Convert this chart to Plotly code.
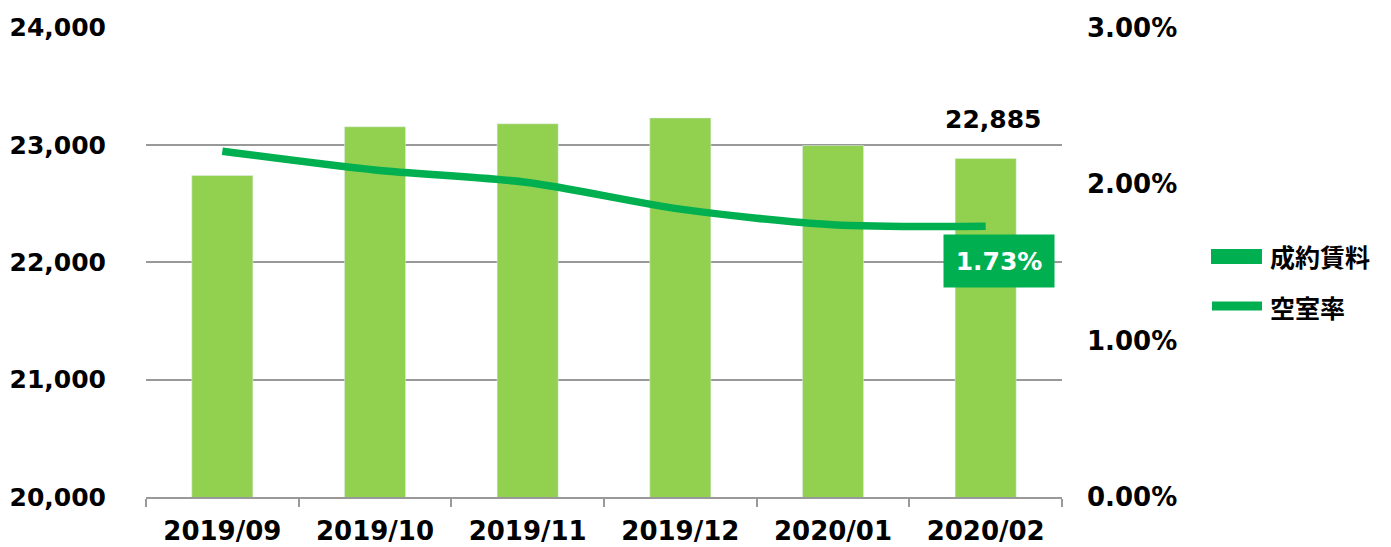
import plotly.graph_objects as go

months = ["2019/09", "2019/10", "2019/11", "2019/12", "2020/01", "2020/02"]
rent = [22740, 23155, 23180, 23230, 22995, 22885]
vacancy = [2.21, 2.09, 2.01, 1.84, 1.74, 1.73]
legend_names = ["成約賃料", "空室率"]

BAR = "#92D050"
LINE = "#00B050"
FONT = "DejaVu Sans"
JP = "Noto Sans CJK JP"

# the page body has an 8px margin, so the figure is drawn 8px right/down
OFF = 8
W, H = 1391 - OFF, 547 - OFF
PL, PR, PT, PB = 146 - OFF, 1062 - OFF, 27 - OFF, 497 - OFF  # plot area in figure px

fig = go.Figure()
fig.add_trace(go.Bar(x=months, y=rent, marker_color=BAR, showlegend=False,
                     name=legend_names[0]))
fig.add_trace(go.Scatter(x=months, y=vacancy, yaxis="y2", mode="lines",
                         line=dict(color=LINE, width=7.5, shape="spline", smoothing=0.8),
                         name=legend_names[1], showlegend=False))

fig.add_annotation(x=months[-1], y=rent[-1], xref="x", yref="y",
                   text=f"{rent[-1]:,}", showarrow=False, yanchor="bottom",
                   yshift=22, xshift=7,
                   font=dict(family=FONT, size=25, color="black", weight="bold"))
fig.add_annotation(x=months[-1], y=vacancy[-1], xref="x", yref="y2",
                   text=f"{vacancy[-1]:.2f}%", showarrow=False,
                   yshift=-35, xshift=13, bgcolor=LINE, borderpad=5,
                   width=100, height=42,
                   font=dict(family=FONT, size=25, color="white", weight="bold"))

# manual legend (paper coordinates from screen pixels)
def px_x(p):
    return (p - OFF - PL) / float(PR - PL)

def px_y(p):
    return (PB - (p - OFF)) / float(PB - PT)

fig.add_shape(type="rect", xref="paper", yref="paper",
              x0=px_x(1211), x1=px_x(1262), y0=px_y(264), y1=px_y(249),
              fillcolor=LINE, line=dict(width=0))
fig.add_shape(type="line", xref="paper", yref="paper",
              x0=px_x(1212), x1=px_x(1262), y0=px_y(306), y1=px_y(306),
              line=dict(color=LINE, width=9))
for name, ypx in zip(legend_names, [256, 307]):
    fig.add_annotation(x=px_x(1268), y=px_y(ypx), xref="paper", yref="paper",
                       text=name, showarrow=False, xanchor="left", yanchor="middle",
                       font=dict(family=JP, size=25, color="black", weight="bold"))

fig.update_layout(
    width=W, height=H,
    margin=dict(l=PL, r=W - PR, t=PT, b=H - PB),
    plot_bgcolor="white", paper_bgcolor="white",
    bargap=0.6,
    showlegend=False,
    font=dict(family=FONT, size=25, color="black"),
    xaxis=dict(showline=True, linecolor="#999999", linewidth=2,
               ticks="outside", tickson="boundaries", ticklen=8, tickcolor="#999999",
               tickwidth=2, showgrid=False, automargin=False,
               tickfont=dict(family=FONT, size=26, color="black", weight="bold"),
               ticklabelstandoff=10),
    yaxis=dict(range=[20000, 24005], tickvals=[20000, 21000, 22000, 23000, 24000],
               tickformat=",d", showgrid=True, gridcolor="#999999", gridwidth=2,
               zeroline=False, showline=False, ticks="", automargin=False,
               tickfont=dict(family=FONT, size=25, color="black", weight="bold"),
               ticklabelstandoff=39),
    yaxis2=dict(range=[0, 3.00375], overlaying="y", side="right",
                tickvals=[0, 1, 2, 3],
                ticktext=["0.00%", "1.00%", "2.00%", "3.00%"],
                showgrid=False, zeroline=False, showline=False, ticks="",
                automargin=False,
                tickfont=dict(family=FONT, size=26, color="black", weight="bold"),
                ticklabelstandoff=24),
)

fig.write_html("out.html")
